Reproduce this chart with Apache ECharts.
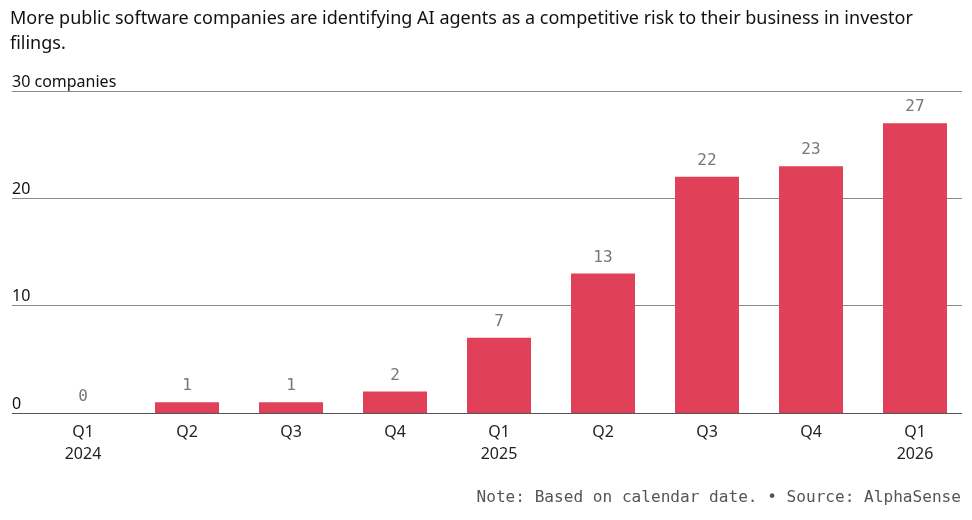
<!DOCTYPE html>
<html>
<head>
<meta charset="utf-8">
<script src="https://cdn.jsdelivr.net/npm/echarts@6/dist/echarts.min.js"></script>
<style>
    html, body {margin: 0; padding: 0; background: #fff;}
    #chart {width: 972px; height: 520px;}
</style>
</head>
<body>
<div id="chart"></div>
<script>
let categories = ["Q1\n2024", "Q2", "Q3", "Q4", "Q1\n2025", "Q2", "Q3", "Q4", "Q1\n2026"]
let companies = [0, 1, 1, 2, 7, 13, 22, 23, 27]
let yTicks = [0, 10, 20, 30]

let titleText = "More public software companies are identifying AI agents as a competitive risk to their business in investor\nfilings."
let noteText = "Note: Based on calendar date. \u2022 Source: AlphaSense"

let chart = echarts.init(document.getElementById("chart"))

let option = {
    animation: false,
    title: [{
        text: titleText,
        left: 10,
        top: 6,
        padding: 0,
        textStyle: {
            fontFamily: "Noto Sans",
            fontSize: 18,
            fontWeight: "normal",
            color: "#111",
            lineHeight: 25
        }
    }, {
        text: noteText,
        right: 11,
        bottom: 14,
        padding: 0,
        textStyle: {
            fontFamily: "DejaVu Sans Mono",
            fontSize: 16.1,
            fontWeight: "normal",
            color: "#555"
        }
    }],
    grid: [
        {left: 31, right: 5, top: 91, bottom: 107},
        {left: 12, right: 10, top: 91, bottom: 107}
    ],
    xAxis: [{
        type: "category",
        gridIndex: 0,
        data: categories,
        axisLine: {show: false},
        axisTick: {show: false},
        axisLabel: {
            margin: 8,
            fontFamily: "Noto Sans",
            fontSize: 16,
            color: "#222",
            lineHeight: 22
        }
    }, {
        type: "value",
        gridIndex: 1,
        show: false
    }],
    yAxis: [{
        type: "value",
        gridIndex: 0,
        min: 0,
        max: 30,
        interval: 10,
        show: false
    }, {
        type: "value",
        gridIndex: 1,
        min: 0,
        max: 30,
        interval: 10,
        axisLine: {show: false},
        axisTick: {show: false},
        splitLine: {
            show: true,
            lineStyle: {color: ["#555", "#8a8a8a", "#8a8a8a", "#8a8a8a"], width: 1}
        },
        axisLabel: {
            inside: true,
            margin: 0,
            verticalAlign: "bottom",
            padding: [0, 0, 1, 0],
            fontFamily: "Noto Sans",
            fontSize: 16,
            color: "#111",
            formatter: function (value) {
                if (yTicks.indexOf(value) < 0) {
                    return ""
                }
                return value === 30 ? "30 companies" : String(value)
            }
        }
    }],
    series: [{
        type: "bar",
        xAxisIndex: 0,
        yAxisIndex: 0,
        data: companies,
        barWidth: 64,
        itemStyle: {color: "#e04058"},
        label: {
            show: true,
            position: "top",
            distance: 8,
            fontFamily: "DejaVu Sans Mono",
            fontSize: 16,
            color: "#777"
        }
    }]
}

chart.setOption(option)
</script>
</body>
</html>
